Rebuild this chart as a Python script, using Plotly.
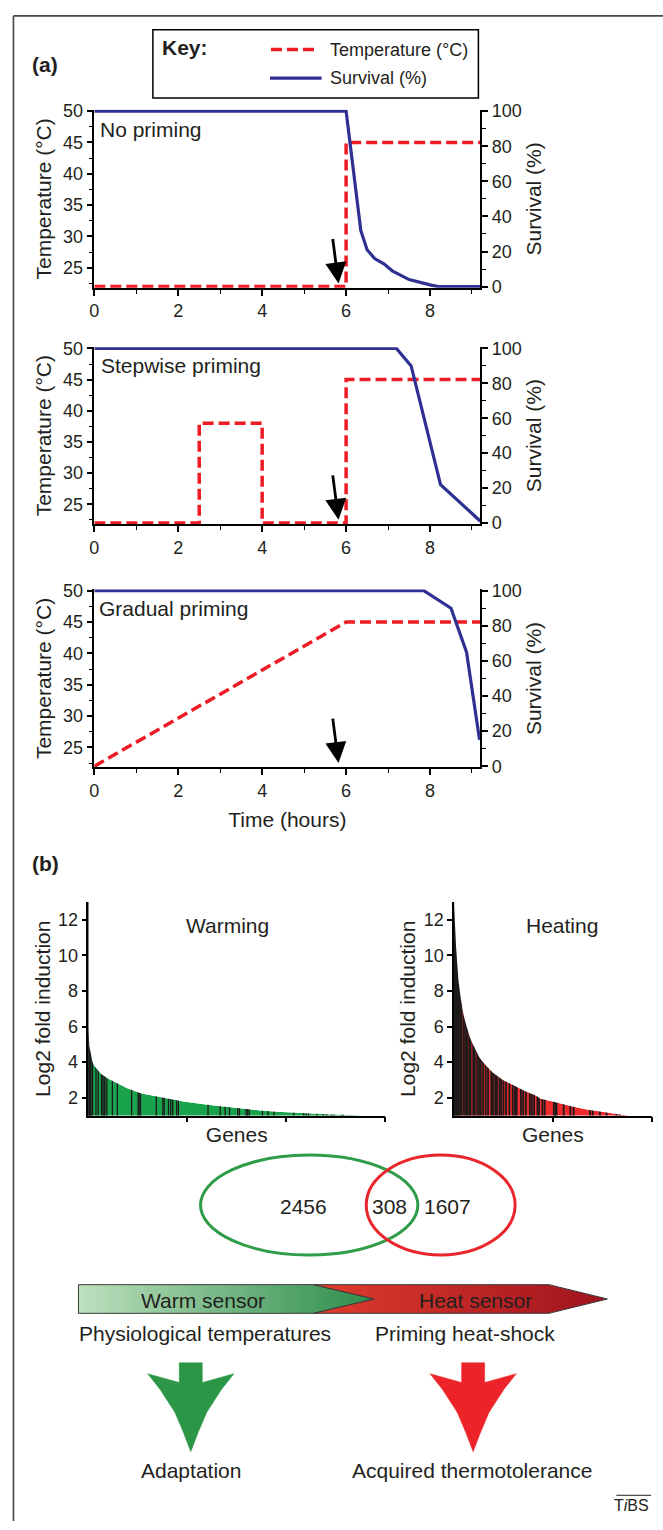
import plotly.graph_objects as go

W, H = 663, 1530
FONT = "Liberation Sans, Arial, Helvetica, sans-serif"
INK = "#231f20"
RED_T = "#ed1c24"
BLUE_S = "#2e3192"
GREEN_BAR = "#1aa34d"
RED_BAR = "#ee2a2e"
STRIPE = "#1c1a1a"
VENN_G = "#2f9c48"
VENN_R = "#e9262c"
ARROW_G = "#2b9645"
ARROW_R = "#ec2329"

# ---------------- (a) data ----------------
hour_ticks = [0, 2, 4, 6, 8]
hour_minor = [1, 3, 5, 7, 9]
temp_ticks = [25, 30, 35, 40, 45, 50]
temp_minor = [22.5, 27.5, 32.5, 37.5, 42.5, 47.5]
surv_ticks = [0, 20, 40, 60, 80, 100]
surv_minor = [10, 30, 50, 70, 90]
time_range = [0, 9.2]
temp_low, temp_high = 22, 50
temp_range = [21.8, 50.2]

no_temp_t = [0, 6, 6, 9.2]
no_temp_c = [22, 22, 45, 45]
no_surv_t = [0, 6.0, 6.35, 6.5, 6.68, 6.9, 7.1, 7.5, 8.0, 8.2, 9.2]
no_surv_p = [100, 100, 32, 21, 16, 13, 9, 4, 1, 0, 0]

step_temp_t = [0, 2.5, 2.5, 4, 4, 6, 6, 9.2]
step_temp_c = [22, 22, 38, 38, 22, 22, 45, 45]
step_surv_t = [0, 7.2, 7.55, 8.25, 9.2]
step_surv_p = [100, 100, 90, 22, 1]

grad_temp_t = [0, 6, 9.2]
grad_temp_c = [22, 45, 45]
grad_surv_t = [0, 7.85, 8.5, 8.87, 9.18]
grad_surv_p = [100, 100, 90, 65, 15]

panel_titles = ["No priming", "Stepwise priming", "Gradual priming"]
shock_time = 5.82
shock_temp = 22.5

# ---------------- (b) data ----------------
fold_ticks = [2, 4, 6, 8, 10, 12]
fold_range = [1, 13]
warm_gene_ticks = [1000, 2000, 3000]
heat_gene_ticks = [1000, 2000]
warm_gene_range = [0, 3000]
heat_gene_range = [0, 2000]

warm_rank = [0, 10, 27, 43, 60, 93, 127, 193, 293, 393, 527, 727, 960, 1227, 1427,
             1577, 1743, 1910, 2077, 2243, 2410, 2577, 2730]
warm_fold = [5.9, 4.9, 4.4, 4.0, 3.8, 3.57, 3.35, 3.1, 2.82, 2.54, 2.26, 2.03, 1.79, 1.6, 1.47,
             1.38, 1.28, 1.21, 1.15, 1.11, 1.07, 1.04, 1.0]
warm_shared = [0, 4, 8, 12, 16, 20, 27, 43, 77, 100, 133, 147, 160, 167, 187, 243, 293, 437,
               503, 513, 527, 687, 753, 767, 810, 833, 853, 893, 910, 1210, 1333, 1383, 1427,
               1510, 1527, 1593, 1610, 1627, 1760, 1817, 1877, 2077, 2177, 2203, 2227, 2310,
               2377, 2410, 2460, 2483, 2560, 2577]

heat_rank = [0, 20, 44, 67, 94, 127, 160, 194, 260, 327, 394, 494, 594, 727, 827, 877, 977,
             1077, 1210, 1344, 1477, 1610, 1710, 1750]
heat_fold = [12.8, 10.5, 8.6, 7.6, 6.7, 6.0, 5.4, 4.96, 4.23, 3.78, 3.41, 3.0, 2.71, 2.35, 2.13,
             1.95, 1.82, 1.67, 1.49, 1.34, 1.22, 1.12, 1.05, 1.0]
heat_shared = [0, 10, 20, 30, 40, 50, 60, 77, 100, 120, 134, 154, 167, 194, 210, 234, 254, 270,
               294, 320, 344, 377, 394, 417, 434, 460, 477, 500, 527, 560, 594, 617, 634, 677,
               700, 727, 767, 787, 810, 844, 860, 894, 917, 1010, 1027, 1037, 1110, 1177, 1210,
               1377, 1404, 1477, 1544, 1644, 1677]

venn_counts = [2456, 308, 1607]
sensor_labels = ["Warm sensor", "Heat sensor"]
range_labels = ["Physiological temperatures", "Priming heat-shock"]
outcome_labels = ["Adaptation", "Acquired thermotolerance"]

# ---------------- helpers ----------------
def dx(a, b):
    return [a / W, b / W]

def dy(top, bot):
    return [1 - bot / H, 1 - top / H]

def axis_style(**kw):
    d = dict(showline=True, linecolor="black", linewidth=1.5, ticks="outside", ticklen=6,
             tickwidth=1.5, tickcolor="black", showgrid=False, zeroline=False,
             tickfont=dict(size=18, color=INK, family=FONT), fixedrange=True)
    d.update(kw)
    return d

def minor(vals, ln=4):
    return dict(tickvals=vals, ticks="outside", ticklen=ln, tickwidth=1.2, tickcolor="black",
                showgrid=False)

fig = go.Figure()
lay = dict(width=W, height=H, margin=dict(l=0, r=0, t=0, b=0), paper_bgcolor="white",
           plot_bgcolor="rgba(0,0,0,0)", showlegend=False,
           font=dict(family=FONT, color=INK, size=18))
annotations = []
shapes = []

def text(t, x, y, size=21, xanchor="center", bold=False, color=INK):
    annotations.append(dict(text=f"<b>{t}</b>" if bold else t, x=x, y=y, xref="x6", yref="y9",
                            xanchor=xanchor, yanchor="middle", showarrow=False,
                            font=dict(size=size, color=color, family=FONT)))

# ---------------- (a) panels ----------------
panels = [
    (no_temp_t, no_temp_c, no_surv_t, no_surv_p, 103, 283),
    (step_temp_t, step_temp_c, step_surv_t, step_surv_p, 343, 522),
    (grad_temp_t, grad_temp_c, grad_surv_t, grad_surv_p, 588, 768),
]
surv_range = [(t - temp_low) / (temp_high - temp_low) * 100 for t in temp_range]

for i, (tt, tc, st, sp, top, bot) in enumerate(panels):
    xk = "x" if i == 0 else f"x{i + 1}"
    ylk = "y" if i == 0 else f"y{2 * i + 1}"
    yrk = f"y{2 * i + 2}"
    xname = "xaxis" if i == 0 else f"xaxis{i + 1}"
    ylname = "yaxis" if i == 0 else f"yaxis{2 * i + 1}"
    yrname = f"yaxis{2 * i + 2}"
    xa = axis_style(domain=dx(90, 479), range=time_range, anchor=ylk, tickvals=hour_ticks,
                    minor=minor(hour_minor))
    if i == 2:
        xa["title"] = dict(text="Time (hours)", font=dict(size=21, color=INK), standoff=12)
    lay[xname] = xa
    lay[ylname] = axis_style(domain=dy(top, bot), range=temp_range, anchor=xk,
                             tickvals=temp_ticks, minor=minor(temp_minor),
                             title=dict(text="Temperature (°C)", font=dict(size=21, color=INK),
                                        standoff=6))
    lay[yrname] = axis_style(domain=dy(top, bot), range=surv_range, anchor=xk,
                             overlaying=ylk, side="right", tickvals=surv_ticks,
                             minor=minor(surv_minor),
                             title=dict(text="Survival (%)", font=dict(size=21, color=INK),
                                        standoff=6))
    fig.add_trace(go.Scatter(x=tt, y=tc, mode="lines", xaxis=xk, yaxis=ylk,
                             line=dict(color=RED_T, width=3.5, dash="11px,5px"),
                             name="Temperature (°C)"))
    fig.add_trace(go.Scatter(x=st, y=sp, mode="lines", xaxis=xk, yaxis=yrk,
                             line=dict(color=BLUE_S, width=3.2), name="Survival (%)"))
    annotations.append(dict(x=shock_time, y=shock_temp, xref=xk, yref=ylk, text="",
                            showarrow=True, arrowhead=2, arrowsize=1.5, arrowwidth=2.8,
                            arrowcolor="black", ax=-6, ay=-46))

# panel titles
for label, (lx, ly) in zip(panel_titles, [(94, 123), (95, 362), (93, 607)]):
    text(label, lx, ly, xanchor="left")

# key
shapes.append(dict(type="rect", xref="x6", yref="y9", x0=149, x1=477, y0=22, y1=91,
                   line=dict(color="black", width=1.5)))
shapes.append(dict(type="line", xref="x6", yref="y9", x0=268, x1=313, y0=42, y1=42,
                   line=dict(color=RED_T, width=3.5, dash="11px,5px")))
shapes.append(dict(type="line", xref="x6", yref="y9", x0=267, x1=319, y0=71, y1=71,
                   line=dict(color=BLUE_S, width=3.2)))
text("Key:", 156, 40, xanchor="left", bold=True)
text("Temperature (°C)", 325, 42, size=18, xanchor="left")
text("Survival (%)", 325, 71, size=18, xanchor="left")
text("(a)", 25, 57, xanchor="left", bold=True)
text("(b)", 25, 865, xanchor="left", bold=True)

# ---------------- (b) bar charts ----------------
def gene_panel(xk, yk, xname, yname, xdom, grange, gticks, rank, fold, shared, color, swidth):
    lay[xname] = axis_style(domain=xdom, range=grange, anchor=yk, tickvals=gticks,
                            showticklabels=False, ticklen=5,
                            title=dict(text="Genes", font=dict(size=21, color=INK), standoff=6))
    lay[yname] = axis_style(domain=dy(904, 1120), range=fold_range, anchor=xk,
                            tickvals=fold_ticks, ticklen=5,
                            title=dict(text="Log2 fold induction", font=dict(size=21, color=INK),
                                       standoff=2))
    fig.add_trace(go.Scatter(x=rank, y=fold, mode="lines", fill="tozeroy", fillcolor=color,
                             line=dict(width=0, color=color), xaxis=xk, yaxis=yk))
    top = fold_range[1]
    sx, sy = [], []
    for g in shared:
        sx += [g, g, None]
        sy += [0, top, None]
    fig.add_trace(go.Scatter(x=sx, y=sy, mode="lines", line=dict(color=STRIPE, width=swidth),
                             xaxis=xk, yaxis=yk))
    mx = [rank[0]] + rank + [rank[-1]]
    my = [top] + fold + [top]
    fig.add_trace(go.Scatter(x=mx, y=my, mode="lines", fill="toself", fillcolor="white",
                             line=dict(width=0, color="white"), xaxis=xk, yaxis=yk))

gene_panel("x4", "y7", "xaxis4", "yaxis7", dx(84, 383), warm_gene_range, warm_gene_ticks,
           warm_rank, warm_fold, warm_shared, GREEN_BAR, 1.3)
gene_panel("x5", "y8", "xaxis5", "yaxis8", dx(452.5, 651.5), heat_gene_range, heat_gene_ticks,
           heat_rank, heat_fold, heat_shared, RED_BAR, 1.8)
text("Warming", 224, 928)
text("Heating", 561, 928)

# ---------------- overlay (pixel) axes ----------------
lay["xaxis6"] = dict(domain=[0, 1], range=[0, W], visible=False, anchor="y9", fixedrange=True)
lay["yaxis9"] = dict(domain=[0, 1], range=[H, 0], visible=False, anchor="x6", fixedrange=True)

# Venn
shapes.append(dict(type="circle", xref="x6", yref="y9", x0=197, x1=416, y0=1160, y1=1261,
                   line=dict(color=VENN_G, width=3)))
shapes.append(dict(type="circle", xref="x6", yref="y9", x0=364, x1=514, y0=1160, y1=1261,
                   line=dict(color=VENN_R, width=3)))
for c, vx in zip(venn_counts, [301, 387, 446]):
    text(str(c), vx, 1212)

# sensor band arrow
fig.add_trace(go.Scatter(x=[74, 311, 372, 311, 74, 74], y=[1291, 1291, 1305.5, 1320, 1320, 1291],
                         mode="lines", fill="toself", xaxis="x6", yaxis="y9",
                         fillgradient=dict(type="horizontal",
                                           colorscale=[[0, "#bde0be"], [1, "#2c8c4b"]]),
                         line=dict(color="#3a3a3a", width=1)))
fig.add_trace(go.Scatter(x=[311, 548, 607, 548, 311, 372, 311],
                         y=[1291, 1291, 1305.5, 1320, 1320, 1305.5, 1291],
                         mode="lines", fill="toself", xaxis="x6", yaxis="y9",
                         fillgradient=dict(type="horizontal",
                                           colorscale=[[0, "#e03c2c"], [1, "#9e131e"]]),
                         line=dict(color="#3a3a3a", width=1)))
text(sensor_labels[0], 200, 1307)
text(sensor_labels[1], 474, 1307)
text(range_labels[0], 202, 1340)
text(range_labels[1], 463, 1340)

# down arrows
def down_arrow(cx, color):
    ox = [-11.6, 11.6, 11.6, 43.5, 30.9, 16.1, 7.6, 0, -7.6, -16.1, -30.9, -43.5, -11.6, -11.6]
    oy = [1370, 1370, 1390, 1381, 1397, 1420, 1440, 1460, 1440, 1420, 1397, 1381, 1390, 1370]
    fig.add_trace(go.Scatter(x=[cx + v for v in ox], y=oy, mode="lines", fill="toself",
                             fillcolor=color, line=dict(color=color, width=0.5),
                             xaxis="x6", yaxis="y9"))

down_arrow(187.2, ARROW_G)
down_arrow(471.7, ARROW_R)
text(outcome_labels[0], 187, 1479)
text(outcome_labels[1], 471, 1479)

# TiBS mark
text("T<i>i</i>BS", 651, 1514, size=16, xanchor="right")
shapes.append(dict(type="line", xref="x6", yref="y9", x0=616, x1=651, y0=1504, y1=1504,
                   line=dict(color=INK, width=1)))

# outer frame
shapes.append(dict(type="line", xref="x6", yref="y9", x0=8.5, x1=8.5, y0=8, y1=H,
                   line=dict(color="#444444", width=1.6)))
shapes.append(dict(type="line", xref="x6", yref="y9", x0=8.5, x1=W, y0=8, y1=8,
                   line=dict(color="#444444", width=1.6)))

lay["annotations"] = annotations
lay["shapes"] = shapes
fig.update_layout(**lay)
fig.write_html("out.html", config={"displayModeBar": False},
               post_script="document.body.style.margin='0';document.body.style.padding='0';")
